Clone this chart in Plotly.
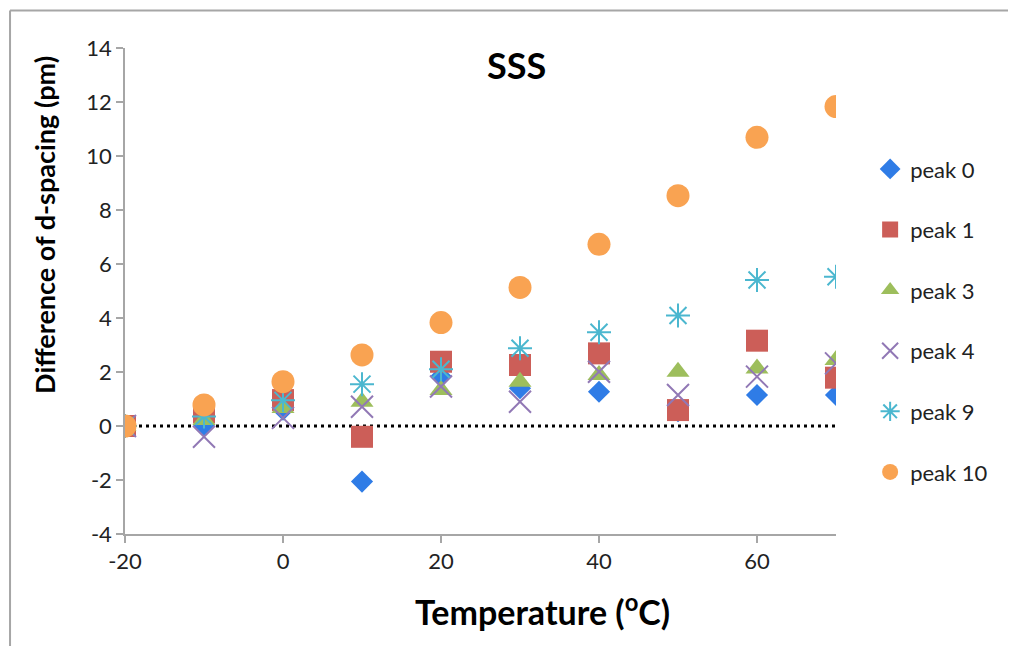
import plotly.graph_objects as go

temps = [-20, -10, 0, 10, 20, 30, 40, 50, 60, 70]
peak0 = [0, 0.05, 0.6, -2.06, 1.83, 1.4, 1.27, 0.55, 1.15, 1.15]
peak1 = [0, 0.5, 0.96, -0.4, 2.38, 2.26, 2.69, 0.59, 3.16, 1.79]
peak3 = [0, 0.22, 0.67, 0.9, 1.33, 1.64, 1.89, 2.01, 2.13, 2.44]
peak4 = [0, -0.4, 0.3, 0.71, 1.46, 0.9, 2.01, 1.15, 1.83, 2.32]
peak9 = [0, 0.35, 0.95, 1.55, 2.1, 2.88, 3.47, 4.09, 5.41, 5.53]
peak10 = [0, 0.78, 1.64, 2.63, 3.83, 5.13, 6.73, 8.53, 10.69, 11.83]

x_tickvals = [-20, 0, 20, 40, 60]
x_ticktext = ["-20", "0", "20", "40", "60"]
y_tickvals = [-4, -2, 0, 2, 4, 6, 8, 10, 12, 14]
y_ticktext = ["-4", "-2", "0", "2", "4", "6", "8", "10", "12", "14"]

series = [
    ("peak 0", peak0, "diamond", "#2F7CE6", 17, 0),
    ("peak 1", peak1, "square", "#CC5E58", 22, 0),
    ("peak 3", peak3, "triangle-up", "#9DBE5C", 20, 0),
    ("peak 4", peak4, "x-thin-open", "#9178B5", 22, 2),
    ("peak 9", peak9, "asterisk-open", "#4BB7CF", 20, 2),
    ("peak 10", peak10, "circle", "#F9A352", 23, 0),
]

FONT = "Lato"
fig = go.Figure()
for name, vals, sym, col, size, lw in series:
    marker = dict(symbol=sym, size=size, color=col)
    if lw:
        marker["line"] = dict(color=col, width=lw)
    else:
        marker["line"] = dict(width=0)
    fig.add_trace(go.Scatter(x=temps, y=vals, mode="markers", name=name,
                             legendgroup=name, marker=marker))

# dotted zero reference line
fig.add_shape(type="line", xref="x", yref="y", x0=-20, x1=70, y0=0, y1=0,
              line=dict(color="black", width=3, dash="3px,4px"), layer="below")

# outer chart frame: top and left edges
frame = dict(color="#A6A6A6", width=2)
fig.add_shape(type="line", xref="paper", yref="paper",
              x0=-0.1617, x1=1.3, y0=1.077, y1=1.077, line=frame)
fig.add_shape(type="line", xref="paper", yref="paper",
              x0=-0.1617, x1=-0.1617, y0=-0.3, y1=1.077, line=frame)

axis_common = dict(showgrid=False, zeroline=False, showline=True,
                   linecolor="#A6A6A6", linewidth=1.5, ticks="outside",
                   tickcolor="#A6A6A6", ticklen=7, tickwidth=1.5,
                   tickfont=dict(family=FONT, size=22, color="#222222"))

fig.update_xaxes(range=[-20, 70], tickvals=x_tickvals, ticktext=x_ticktext,
                 **axis_common)
fig.update_yaxes(range=[-4, 14], tickvals=y_tickvals, ticktext=y_ticktext,
                 **axis_common)

fig.add_annotation(text="<b>SSS</b>", xref="paper", yref="paper", x=0.551, y=0.965,
                   showarrow=False, xanchor="center", yanchor="middle",
                   font=dict(family=FONT, size=36, color="black"))
fig.add_annotation(text="<b>Temperature (<sup>o</sup>C)</b>", xref="paper", yref="paper",
                   x=0.5865, y=-0.156, showarrow=False, xanchor="center", yanchor="middle",
                   font=dict(family=FONT, size=34, color="black"))
fig.add_annotation(text="<b>Difference of d-spacing (pm)</b>", xref="paper", yref="paper",
                   x=-0.1125, y=0.636, showarrow=False, xanchor="center", yanchor="middle",
                   textangle=-90, font=dict(family=FONT, size=27, color="black"))

fig.update_layout(
    width=1008, height=638,
    margin=dict(l=117, r=180, t=40, b=112),
    plot_bgcolor="white", paper_bgcolor="white",
    legend=dict(x=1.048, y=0.794, xanchor="left", yanchor="top",
                font=dict(family=FONT, size=22, color="#222222"),
                traceorder="grouped", tracegroupgap=29,
                bgcolor="rgba(0,0,0,0)"),
)

fig.write_html("out.html")
